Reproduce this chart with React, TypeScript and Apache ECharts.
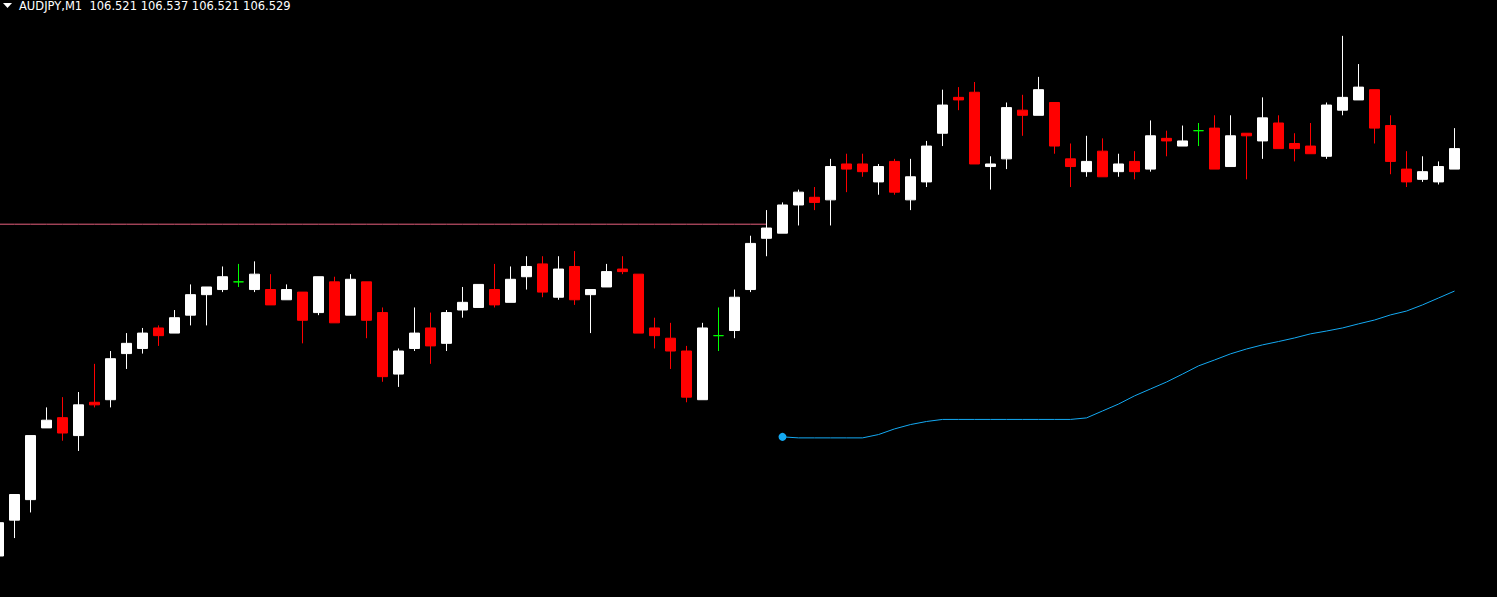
import React, { useEffect, useRef } from "react";
import * as echarts from "echarts";

const symbolName = "AUDJPY";
const timeframe = "M1";

const opens = [
  106.370, 106.384, 106.392, 106.420, 106.424, 106.417, 106.430, 106.431, 106.449, 106.451,
  106.459, 106.457, 106.464, 106.472, 106.474, 106.477, 106.474, 106.474, 106.470, 106.473,
  106.465, 106.477, 106.464, 106.477, 106.465, 106.441, 106.451, 106.459, 106.453, 106.466,
  106.467, 106.474, 106.469, 106.479, 106.484, 106.471, 106.483, 106.472, 106.475, 106.482,
  106.480, 106.459, 106.455, 106.450, 106.431, 106.456, 106.458, 106.474, 106.494, 106.496,
  106.507, 106.510, 106.509, 106.523, 106.523, 106.516, 106.524, 106.509, 106.516, 106.535,
  106.549, 106.551, 106.522, 106.525, 106.544, 106.542, 106.547, 106.525, 106.520, 106.528,
  106.520, 106.524, 106.521, 106.533, 106.530, 106.536, 106.537, 106.522, 106.535, 106.532,
  106.539, 106.531, 106.530, 106.526, 106.544, 106.548, 106.552, 106.538, 106.521, 106.517,
  106.516, 106.521,
];

const closes = [
  106.383, 106.394, 106.417, 106.423, 106.418, 106.429, 106.429, 106.447, 106.453, 106.457,
  106.456, 106.463, 106.472, 106.475, 106.479, 106.477, 106.480, 106.468, 106.474, 106.462,
  106.479, 106.461, 106.478, 106.462, 106.440, 106.450, 106.457, 106.452, 106.465, 106.469,
  106.476, 106.468, 106.478, 106.483, 106.473, 106.482, 106.470, 106.474, 106.481, 106.481,
  106.457, 106.456, 106.450, 106.432, 106.459, 106.456, 106.471, 106.492, 106.498, 106.507,
  106.512, 106.508, 106.522, 106.521, 106.520, 106.522, 106.512, 106.518, 106.530, 106.546,
  106.548, 106.523, 106.523, 106.545, 106.542, 106.552, 106.530, 106.522, 106.524, 106.518,
  106.523, 106.520, 106.534, 106.532, 106.532, 106.536, 106.521, 106.534, 106.534, 106.541,
  106.529, 106.529, 106.527, 106.546, 106.549, 106.553, 106.537, 106.524, 106.516, 106.520,
  106.522, 106.529,
];

const lows = [
  106.370, 106.377, 106.387, 106.420, 106.415, 106.411, 106.428, 106.428, 106.443, 106.449,
  106.452, 106.457, 106.460, 106.460, 106.473, 106.475, 106.473, 106.468, 106.470, 106.453,
  106.464, 106.461, 106.464, 106.455, 106.438, 106.436, 106.450, 106.445, 106.450, 106.463,
  106.467, 106.467, 106.469, 106.474, 106.471, 106.470, 106.468, 106.457, 106.475, 106.480,
  106.457, 106.451, 106.443, 106.430, 106.431, 106.450, 106.455, 106.473, 106.487, 106.496,
  106.499, 106.505, 106.499, 106.512, 106.518, 106.511, 106.511, 106.505, 106.514, 106.530,
  106.544, 106.523, 106.513, 106.521, 106.534, 106.542, 106.527, 106.514, 106.518, 106.518,
  106.518, 106.517, 106.520, 106.526, 106.530, 106.530, 106.521, 106.522, 106.517, 106.525,
  106.529, 106.524, 106.527, 106.525, 106.542, 106.548, 106.531, 106.519, 106.514, 106.516,
  106.515, 106.521,
];

const highs = [
  106.383, 106.394, 106.417, 106.428, 106.432, 106.434, 106.445, 106.450, 106.457, 106.459,
  106.460, 106.466, 106.476, 106.475, 106.483, 106.484, 106.485, 106.480, 106.476, 106.473,
  106.479, 106.479, 106.480, 106.477, 106.467, 106.451, 106.467, 106.465, 106.466, 106.475,
  106.476, 106.484, 106.483, 106.487, 106.487, 106.487, 106.489, 106.474, 106.484, 106.487,
  106.480, 106.463, 106.461, 106.452, 106.461, 106.467, 106.474, 106.495, 106.505, 106.508,
  106.513, 106.514, 106.525, 106.527, 106.527, 106.523, 106.525, 106.525, 106.532, 106.552,
  106.553, 106.555, 106.526, 106.547, 106.550, 106.557, 106.547, 106.531, 106.534, 106.533,
  106.527, 106.528, 106.540, 106.536, 106.538, 106.539, 106.542, 106.542, 106.535, 106.549,
  106.542, 106.535, 106.539, 106.547, 106.573, 106.562, 106.552, 106.542, 106.528, 106.526,
  106.524, 106.537,
];

// indicator line, starts at bar index 49
const indicatorStart = 49;
const indicatorValues = [
  106.4165, 106.4161, 106.4161, 106.4161, 106.4161, 106.4161, 106.4174, 106.4196, 106.4213, 106.4225,
  106.4233, 106.4233, 106.4233, 106.4233, 106.4233, 106.4233, 106.4233, 106.4233, 106.4233, 106.4239,
  106.4266, 106.4293, 106.4325, 106.4352, 106.4379, 106.4410, 106.4442, 106.4465, 106.4489, 106.4508,
  106.4524, 106.4537, 106.4551, 106.4567, 106.4578, 106.4590, 106.4606, 106.4621, 106.4641, 106.4656,
  106.4680, 106.4707, 106.4734,
];

// horizontal level line
const levelPrice = 106.4995;
const levelEndIndex = 48;

const priceMin = 106.354;
const priceMax = 106.587;

const SHIFT = 10; // chart canvas starts 10px left of the page so the first bar is partly hidden

export default function App() {
  const ref = useRef<HTMLDivElement>(null);

  useEffect(() => {
    document.body.style.margin = "0";
    document.body.style.background = "#000";
    document.body.style.overflow = "hidden";
    const chart = echarts.init(ref.current!, null, { renderer: "svg" });

    const categories = opens.map((_, i) => String(i));
    const last = opens.length - 1;

    const candleData = opens.map((o, i) => {
      const v = [o, closes[i], lows[i], highs[i]];
      if (o === closes[i]) {
        return {
          value: v,
          itemStyle: {
            color: "#00ff00",
            color0: "#00ff00",
            borderColor: "#00ff00",
            borderColor0: "#00ff00",
          },
        };
      }
      return v;
    });

    const indicatorData: any[] = categories.map((_, i) =>
      i < indicatorStart ? "-" : indicatorValues[i - indicatorStart]
    );
    indicatorData[indicatorStart] = {
      value: indicatorValues[0],
      symbol: "circle",
      symbolSize: 8,
    };

    const levelData = categories.map((_, i) => (i <= levelEndIndex ? levelPrice : "-"));

    const header = `${symbolName},${timeframe}  ${opens[last].toFixed(3)} ${highs[last].toFixed(3)} ${lows[last].toFixed(3)} ${closes[last].toFixed(3)}`;

    chart.setOption({
      animation: false,
      backgroundColor: "#000000",
      grid: { left: 0.5, right: 34.5, top: 0, bottom: 0 },
      xAxis: {
        type: "category",
        data: categories,
        boundaryGap: true,
        show: false,
      },
      yAxis: {
        type: "value",
        min: priceMin,
        max: priceMax,
        show: false,
        splitLine: { show: false },
      },
      series: [
        {
          type: "line",
          data: levelData,
          symbol: "none",
          lineStyle: { color: "#e8607f", width: 1 },
          silent: true,
          z: 1,
        },
        {
          type: "candlestick",
          data: candleData,
          barWidth: 10,
          itemStyle: {
            color: "#ffffff",
            color0: "#ff0000",
            borderColor: "#ffffff",
            borderColor0: "#ff0000",
            borderWidth: 1,
          },
          z: 2,
        },
        {
          type: "line",
          data: indicatorData,
          symbol: "none",
          showSymbol: true,
          itemStyle: { color: "#14a9f2" },
          lineStyle: { color: "#14a9f2", width: 1 },
          silent: true,
          z: 3,
        },
      ],
      graphic: [
        {
          type: "polygon",
          shape: { points: [[SHIFT + 3, 3], [SHIFT + 12, 3], [SHIFT + 7.5, 8]] },
          style: { fill: "#ffffff" },
        },
        {
          type: "text",
          x: SHIFT + 19,
          y: 6,
          style: {
            text: header,
            fill: "#ffffff",
            font: "11.5px 'DejaVu Sans'",
            verticalAlign: "middle",
            align: "left",
          },
        },
      ],
    });

    return () => chart.dispose();
  }, []);

  return (
    <div
      ref={ref}
      style={{
        position: "absolute",
        left: -SHIFT,
        top: 0,
        width: 1497 + SHIFT,
        height: 597,
        background: "#000",
      }}
    />
  );
}
